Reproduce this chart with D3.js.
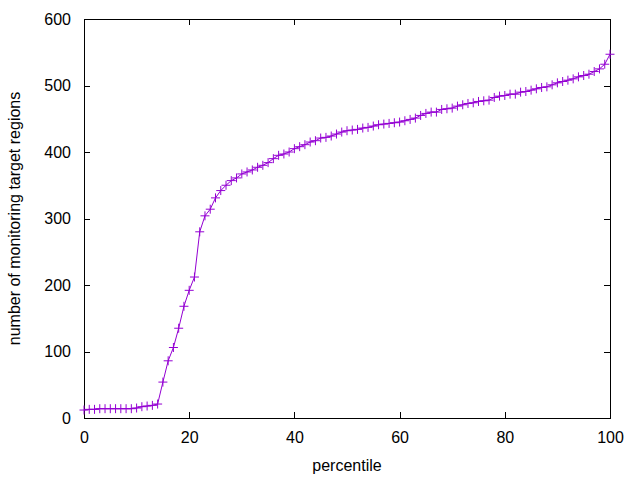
<!DOCTYPE html>
<html>
<head>
<meta charset="utf-8">
<script src="https://cdn.jsdelivr.net/npm/d3@7"></script>
<style>
  html, body { margin: 0; padding: 0; background: #fff; }
  svg { display: block; }
  text { font-family: "Liberation Sans", Arial, sans-serif; font-size: 16px; fill: #000; }
</style>
</head>
<body>
<svg id="chart" width="640" height="480"></svg>
<script>
const percentiles = [0,1,2,3,4,5,6,7,8,9,10,11,12,13,14,15,16,17,18,19,20,21,22,23,24,25,26,27,28,29,30,31,32,33,34,35,36,37,38,39,40,41,42,43,44,45,46,47,48,49,50,51,52,53,54,55,56,57,58,59,60,61,62,63,64,65,66,67,68,69,70,71,72,73,74,75,76,77,78,79,80,81,82,83,84,85,86,87,88,89,90,91,92,93,94,95,96,97,98,99,100];
const regions = [12,13,13,14,14,14,14,14,14,14,15,17,18,19,21,54,86,106,135,168,192,212,280,304,314,331,342,350,357,361,367,370,373,377,380,384,390,395,397,400,405,408,411,415,417,421,422,424,427,430,432,433,434,436,437,439,441,442,443,444,445,447,449,451,455,458,460,460,464,465,466,469,471,473,474,476,477,478,482,484,485,487,487,490,491,493,495,497,498,501,504,506,508,510,513,515,517,521,525,532,547];
const xTicks = [0,20,40,60,80,100];
const yTicks = [0,100,200,300,400,500,600];
const xLabel = "percentile";
const yLabel = "number of monitoring target regions";

const svg = d3.select("#chart");
const L = 84, R = 610, T = 19, B = 418;
const x = d3.scaleLinear().domain([0,100]).range([L,R]);
const y = d3.scaleLinear().domain([0,600]).range([B,T]);
const color = "#9400d3";
const tick = 6;

// bottom axis
const gx = svg.append("g").attr("transform", `translate(0,${B})`)
  .call(d3.axisBottom(x).tickValues(xTicks).tickSize(-tick).tickPadding(14).tickFormat(d3.format("d")));
// top mirror ticks
svg.append("g").attr("transform", `translate(0,${T})`)
  .call(d3.axisTop(x).tickValues(xTicks).tickSize(-tick).tickFormat(""));
// left axis
svg.append("g").attr("transform", `translate(${L},0)`)
  .call(d3.axisLeft(y).tickValues(yTicks).tickSize(-tick).tickPadding(13).tickFormat(d3.format("d")));
// right mirror ticks
svg.append("g").attr("transform", `translate(${R},0)`)
  .call(d3.axisRight(y).tickValues(yTicks).tickSize(-tick).tickFormat(""));

svg.selectAll(".domain").remove();
svg.selectAll(".tick line").attr("stroke", "#000").attr("stroke-width", 1).attr("shape-rendering", "crispEdges");
svg.selectAll(".tick text").style("font-family", '"Liberation Sans", Arial, sans-serif').style("font-size", "16px").attr("fill", "#000");

// border
svg.append("rect").attr("x", L).attr("y", T).attr("width", R - L).attr("height", B - T)
  .attr("fill", "none").attr("stroke", "#000").attr("stroke-width", 1).attr("shape-rendering", "crispEdges");

const data = percentiles.map((p, i) => ({p, v: regions[i]}));

// line
svg.append("path").datum(data)
  .attr("fill", "none").attr("stroke", color).attr("stroke-width", 1)
  .attr("d", d3.line().x(d => x(d.p)).y(d => y(d.v)));

// + markers
const s = 4.5;
svg.append("g").selectAll("path.pt").data(data).join("path")
  .attr("class", "pt")
  .attr("fill", "none").attr("stroke", color).attr("stroke-width", 1)
  .attr("d", d => {
    const cx = x(d.p), cy = y(d.v);
    return `M${cx - s},${cy}H${cx + s}M${cx},${cy - s}V${cy + s}`;
  });

// axis labels
svg.append("text").attr("x", (L + R) / 2).attr("y", 471).attr("text-anchor", "middle").text(xLabel);
svg.append("text").attr("transform", `translate(20,${(T + B) / 2}) rotate(-90)`)
  .attr("text-anchor", "middle").text(yLabel);
</script>
</body>
</html>
